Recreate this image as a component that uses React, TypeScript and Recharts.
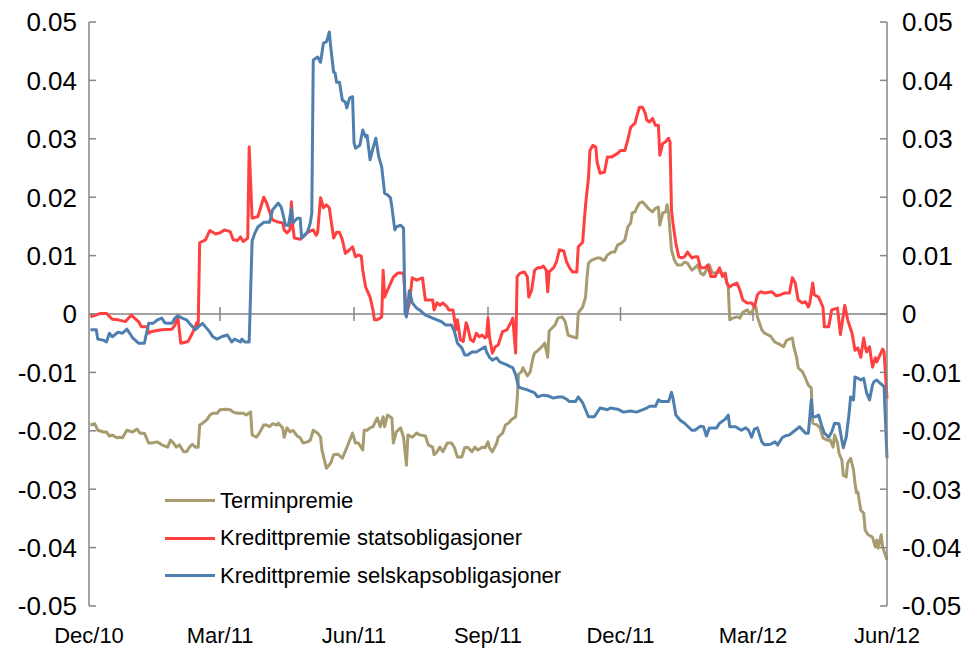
import { Legend, Line, LineChart, ReferenceLine, XAxis, YAxis } from 'recharts'

const CHART_WIDTH = 971
const CHART_HEIGHT = 652
const PLOT_LEFT = 89
const PLOT_RIGHT = 887
const PLOT_TOP = 22
const PLOT_BOTTOM = 606
const TICK_LENGTH = 7
/** Half height of the cross ticks on the zero line, in data units. */
const CROSS_TICK = 0.0012

const FONT = '"Liberation Sans", Arial, sans-serif'
const X_FONT_SIZE = 22
const Y_FONT_SIZE = 26
const LEGEND_FONT_SIZE = 22
const AXIS_COLOR = '#858585'

const TERM_COLOR = '#A79B70'
const STAT_COLOR = '#FF4040'
const SELSK_COLOR = '#4F7FAE'

// days since 1 Dec 2010
const tickDays = [0, 90, 182, 274, 365, 456, 548]
const tickLabels = ['Dec/10', 'Mar/11', 'Jun/11', 'Sep/11', 'Dec/11', 'Mar/12', 'Jun/12']
const yTicks = [-0.05, -0.04, -0.03, -0.02, -0.01, 0, 0.01, 0.02, 0.03, 0.04, 0.05]

const seriesNames = ['Terminpremie', 'Kredittpremie statsobligasjoner', 'Kredittpremie selskapsobligasjoner']

// [day, value]
const terminpremie: [number, number][] = [
  [1, -0.019], [4, -0.0188], [6, -0.0199], [10, -0.0202], [12, -0.0202], [14, -0.0209], [16, -0.0207], [19, -0.0212],
  [21, -0.0211], [23, -0.0212], [26, -0.0199], [30, -0.0202], [33, -0.0197], [35, -0.0204], [38, -0.0204], [41, -0.0221],
  [43, -0.0221], [47, -0.0219], [50, -0.0224], [54, -0.0228], [56, -0.0216], [58, -0.0221], [60, -0.0228], [62, -0.0224],
  [65, -0.0236], [67, -0.0236], [69, -0.0228], [71, -0.0223], [73, -0.0228], [75, -0.0228], [76, -0.019], [78, -0.0187],
  [81, -0.0181], [83, -0.0173], [85, -0.017], [88, -0.017], [90, -0.0164], [93, -0.0163], [97, -0.0164], [99, -0.0168],
  [102, -0.017], [106, -0.017], [108, -0.0173], [111, -0.0168], [112, -0.0207], [115, -0.0211], [117, -0.0204], [120, -0.019],
  [122, -0.019], [124, -0.0193], [126, -0.0188], [129, -0.019], [130, -0.0187], [133, -0.0195], [134, -0.0211], [136, -0.0195],
  [138, -0.0202], [140, -0.0199], [143, -0.0209], [145, -0.0212], [147, -0.0221], [150, -0.0219], [152, -0.0216], [154, -0.0199],
  [157, -0.0204], [159, -0.0211], [160, -0.0233], [163, -0.0264], [166, -0.0255], [168, -0.0241], [171, -0.024], [174, -0.0247],
  [177, -0.0229], [181, -0.0204], [183, -0.0221], [185, -0.0221], [188, -0.0233], [189, -0.0199], [191, -0.0199], [193, -0.0195],
  [195, -0.0193], [198, -0.0178], [200, -0.0193], [202, -0.0176], [203, -0.0193], [205, -0.0173], [208, -0.0178], [209, -0.0221],
  [211, -0.0202], [214, -0.0195], [216, -0.0211], [218, -0.0259], [219, -0.0207], [222, -0.0211], [225, -0.0204], [227, -0.0207],
  [231, -0.0209], [233, -0.0224], [236, -0.0228], [237, -0.0241], [239, -0.0236], [241, -0.0228], [243, -0.0236], [246, -0.0221],
  [249, -0.0221], [251, -0.0229], [253, -0.0245], [256, -0.0245], [258, -0.0229], [260, -0.0228], [263, -0.0236], [265, -0.0228],
  [267, -0.0233], [270, -0.0228], [272, -0.0229], [274, -0.0219], [275, -0.0229], [277, -0.0236], [280, -0.0221], [281, -0.0211],
  [284, -0.0204], [286, -0.019], [288, -0.0187], [290, -0.0181], [293, -0.0176], [294, -0.0147], [295, -0.0103], [297, -0.0099],
  [298, -0.0092], [301, -0.0106], [303, -0.0099], [305, -0.0074], [306, -0.0067], [308, -0.0063], [311, -0.0056], [313, -0.005],
  [315, -0.0074], [316, -0.0029], [318, -0.0024], [320, -0.0019], [322, -0.0007], [325, -0.0005], [327, -0.0013], [329, -0.0036],
  [332, -0.0039], [335, -0.0041], [336, 0.0002], [339, 0.0012], [341, 0.0029], [342, 0.0063], [343, 0.0087], [345, 0.0092],
  [349, 0.0096], [351, 0.0096], [353, 0.0092], [354, 0.0092], [356, 0.0101], [359, 0.0106], [361, 0.0106], [363, 0.0118],
  [366, 0.0122], [368, 0.0127], [370, 0.0149], [372, 0.0156], [373, 0.0173], [375, 0.0175], [376, 0.0181], [378, 0.019],
  [380, 0.0192], [382, 0.0187], [384, 0.0181], [387, 0.0175], [389, 0.0181], [391, 0.0183], [392, 0.0152], [394, 0.0173],
  [396, 0.0175], [397, 0.0187], [398, 0.0173], [400, 0.011], [402, 0.0092], [404, 0.0084], [407, 0.0084], [409, 0.0089],
  [411, 0.0087], [414, 0.0075], [416, 0.0079], [418, 0.0084], [420, 0.007], [422, 0.0067], [424, 0.0075], [426, 0.0084],
  [428, 0.007], [430, 0.007], [432, 0.0072], [435, 0.007], [437, 0.0063], [439, 0.0046], [440, -0.001], [442, -0.0007],
  [445, -0.0005], [447, -0.0007], [449, 0.0003], [452, 0.0007], [454, 0], [456, 0.0007], [458, 0.0012], [459, -0.0005],
  [462, -0.0027], [464, -0.0033], [468, -0.0038], [471, -0.0048], [475, -0.0053], [477, -0.0056], [479, -0.0045], [483, -0.0041],
  [484, -0.0056], [486, -0.0075], [487, -0.0092], [490, -0.0099], [492, -0.011], [494, -0.0122], [496, -0.0127], [497, -0.0187],
  [500, -0.019], [502, -0.0195], [504, -0.0212], [507, -0.0216], [509, -0.0216], [511, -0.0228], [512, -0.0207], [514, -0.0221],
  [515, -0.0238], [517, -0.025], [518, -0.0276], [520, -0.0279], [521, -0.0255], [523, -0.0247], [525, -0.0267], [526, -0.0289],
  [527, -0.0306], [528, -0.0305], [530, -0.0336], [532, -0.0341], [533, -0.037], [535, -0.0378], [538, -0.0382], [540, -0.0399],
  [541, -0.0387], [542, -0.0401], [544, -0.0378], [545, -0.0399], [548, -0.0421]
]

const statsobligasjoner: [number, number][] = [
  [1, -0.0005], [8, 0.0001], [12, 0.0001], [16, -0.0009], [20, -0.001], [25, -0.0013], [29, -0.0002], [34, -0.0013],
  [36, -0.0022], [40, -0.0022], [41, -0.0033], [43, -0.003], [50, -0.0027], [57, -0.0026], [59, -0.0019], [61, -0.0005],
  [63, -0.005], [68, -0.0047], [71, -0.0033], [74, -0.0015], [75, -0.0019], [76, 0.0122], [80, 0.0127], [83, 0.0143],
  [87, 0.0137], [90, 0.0139], [93, 0.0144], [97, 0.0141], [99, 0.0127], [102, 0.0126], [104, 0.0132], [106, 0.0124],
  [109, 0.013], [110, 0.0286], [112, 0.0164], [116, 0.0167], [120, 0.02], [122, 0.019], [124, 0.0175], [126, 0.0161],
  [129, 0.0158], [133, 0.0156], [134, 0.0144], [136, 0.0139], [138, 0.0144], [139, 0.0192], [140, 0.015], [141, 0.013],
  [145, 0.0128], [147, 0.0132], [150, 0.014], [154, 0.0144], [156, 0.0135], [157, 0.0139], [159, 0.0199], [161, 0.0182],
  [163, 0.0187], [165, 0.0182], [168, 0.013], [170, 0.014], [172, 0.014], [174, 0.0127], [176, 0.0104], [179, 0.011],
  [181, 0.0115], [183, 0.0098], [185, 0.0101], [187, 0.0099], [188, 0.0075], [190, 0.0046], [193, 0.0029], [195, 0.0007],
  [196, -0.001], [198, -0.001], [201, -0.0005], [202, 0.0075], [203, 0.0029], [205, 0.0041], [209, 0.0063], [212, 0.007],
  [215, 0.007], [216, 0.0068], [218, -0.0002], [220, 0.0019], [222, 0.0062], [225, 0.0058], [229, 0.0062], [231, 0.0024],
  [234, 0.0024], [236, 0.0024], [237, 0.0007], [239, 0.0019], [241, 0.0015], [243, 0.0019], [246, 0.0012], [247, 0.0007],
  [250, 0.0007], [252, -0.0027], [253, -0.001], [255, -0.0044], [257, -0.0047], [259, -0.0015], [260, -0.0022], [262, -0.0044],
  [264, -0.0047], [266, -0.0033], [268, -0.0039], [270, -0.0036], [272, -0.0041], [273, -0.0039], [274, -0.0007], [275, -0.0039],
  [277, -0.0067], [279, -0.0056], [281, -0.0053], [284, -0.003], [287, -0.0027], [290, -0.0013], [291, -0.0007], [293, -0.0067],
  [294, 0.0064], [296, 0.007], [299, 0.0072], [301, 0.0064], [302, 0.0029], [304, 0.0041], [306, 0.0075], [308, 0.0079],
  [310, 0.0079], [312, 0.0082], [314, 0.0075], [315, 0.0038], [316, 0.0072], [319, 0.0079], [321, 0.0089], [323, 0.011],
  [326, 0.0108], [328, 0.0089], [330, 0.0079], [332, 0.0072], [335, 0.0072], [336, 0.0115], [339, 0.0123], [340, 0.0156],
  [341, 0.0187], [343, 0.0233], [344, 0.028], [346, 0.0289], [348, 0.0286], [349, 0.0259], [351, 0.0241], [354, 0.0243],
  [356, 0.0269], [359, 0.0269], [363, 0.0275], [365, 0.028], [368, 0.028], [370, 0.0298], [372, 0.032], [375, 0.0327],
  [376, 0.0337], [378, 0.0354], [380, 0.0354], [382, 0.0344], [383, 0.0332], [385, 0.0329], [387, 0.0335], [389, 0.0323],
  [391, 0.0323], [392, 0.0272], [394, 0.0292], [396, 0.0295], [398, 0.0301], [399, 0.0295], [400, 0.0178], [401, 0.0156],
  [403, 0.0121], [405, 0.0098], [407, 0.0096], [409, 0.0098], [411, 0.0106], [414, 0.0096], [416, 0.0098], [418, 0.0098],
  [420, 0.0079], [423, 0.0079], [425, 0.0084], [427, 0.0064], [430, 0.0064], [431, 0.007], [433, 0.0079], [435, 0.0064],
  [437, 0.007], [438, 0.0053], [440, 0.0046], [442, 0.005], [445, 0.0053], [447, 0.0041], [449, 0.0024], [452, 0.0019],
  [455, 0.0019], [457, 0.0012], [459, 0.0033], [461, 0.0038], [464, 0.0036], [469, 0.0038], [472, 0.0031], [475, 0.0033],
  [478, 0.0036], [481, 0.0036], [483, 0.0062], [485, 0.0053], [487, 0.0024], [490, 0.0019], [492, 0.0021], [494, 0.0012],
  [495, 0.0019], [497, 0.0053], [498, 0.0033], [501, 0.0029], [504, 0.0012], [505, -0.0022], [508, -0.0022], [510, 0.0007],
  [514, 0.001], [516, -0.0035], [519, 0.0015], [521, -0.001], [524, -0.0033], [526, -0.0062], [528, -0.0058], [530, -0.0074],
  [532, -0.0041], [533, -0.0056], [534, -0.0065], [536, -0.0056], [538, -0.0091], [540, -0.0075], [541, -0.0082], [545, -0.006],
  [546, -0.0065], [548, -0.0145]
]

const selskapsobligasjoner: [number, number][] = [
  [1, -0.0027], [5, -0.0027], [6, -0.0043], [10, -0.0045], [12, -0.0048], [14, -0.0033], [16, -0.0039], [20, -0.0031],
  [23, -0.0033], [26, -0.0026], [28, -0.0033], [30, -0.0041], [34, -0.005], [38, -0.005], [41, -0.0016], [44, -0.0016],
  [47, -0.001], [50, -0.0007], [52, -0.0015], [54, -0.0016], [57, -0.0016], [59, -0.0007], [61, -0.0003], [64, -0.0007],
  [67, -0.001], [70, -0.0019], [73, -0.0027], [75, -0.0022], [78, -0.0016], [80, -0.0022], [83, -0.0031], [85, -0.0039],
  [88, -0.0043], [91, -0.0039], [95, -0.0036], [98, -0.0048], [100, -0.0043], [104, -0.0048], [105, -0.0043], [107, -0.0048],
  [110, -0.0048], [112, 0.0125], [114, 0.0139], [116, 0.0149], [120, 0.0157], [124, 0.0157], [126, 0.0178], [130, 0.019],
  [132, 0.0183], [133, 0.0173], [135, 0.0152], [137, 0.0152], [139, 0.0181], [140, 0.0156], [143, 0.0164], [145, 0.0164],
  [146, 0.013], [150, 0.014], [152, 0.0156], [153, 0.0173], [154, 0.0435], [157, 0.044], [159, 0.0431], [161, 0.0464],
  [163, 0.0466], [164, 0.0473], [165, 0.0483], [166, 0.0457], [168, 0.0414], [169, 0.0413], [170, 0.0397], [172, 0.0397],
  [174, 0.0366], [176, 0.0363], [177, 0.0353], [179, 0.037], [181, 0.0372], [182, 0.0293], [183, 0.0284], [186, 0.0289],
  [188, 0.0315], [190, 0.0303], [191, 0.0306], [193, 0.0264], [195, 0.0284], [197, 0.0301], [199, 0.0269], [201, 0.0252],
  [203, 0.0207], [205, 0.0204], [207, 0.0199], [208, 0.0183], [210, 0.0144], [211, 0.0149], [214, 0.0152], [216, 0.0147],
  [217, 0.0002], [218, -0.0005], [220, 0.004], [222, 0.0019], [225, 0.001], [227, 0.0007], [231, -0.0002], [234, -0.0005],
  [236, -0.0007], [239, -0.001], [242, -0.0013], [245, -0.0019], [249, -0.0019], [251, -0.003], [253, -0.005], [256, -0.0058],
  [258, -0.007], [260, -0.007], [263, -0.0065], [266, -0.0065], [268, -0.0062], [272, -0.0056], [273, -0.0065], [275, -0.0074],
  [277, -0.0079], [280, -0.0075], [282, -0.0082], [284, -0.0084], [287, -0.0087], [290, -0.0091], [291, -0.0092], [293, -0.0104],
  [295, -0.0125], [297, -0.0127], [301, -0.013], [304, -0.0133], [306, -0.0135], [308, -0.0142], [312, -0.0139], [315, -0.014],
  [319, -0.0144], [322, -0.0142], [325, -0.0142], [328, -0.0146], [330, -0.015], [334, -0.015], [336, -0.0142], [339, -0.0152],
  [343, -0.0176], [347, -0.0176], [351, -0.0161], [356, -0.0164], [358, -0.0161], [363, -0.0163], [367, -0.0168], [372, -0.0166],
  [376, -0.0168], [380, -0.0164], [383, -0.0161], [385, -0.0158], [389, -0.0158], [391, -0.0147], [393, -0.015], [398, -0.015],
  [400, -0.0134], [401, -0.0144], [403, -0.0173], [406, -0.0182], [409, -0.0187], [414, -0.0199], [416, -0.0199], [420, -0.0192],
  [422, -0.0193], [424, -0.0209], [426, -0.0195], [431, -0.0195], [433, -0.0187], [437, -0.018], [439, -0.0173], [440, -0.0193],
  [444, -0.0193], [448, -0.0199], [451, -0.0195], [453, -0.0199], [455, -0.0211], [457, -0.0197], [459, -0.0195], [462, -0.0219],
  [464, -0.0224], [468, -0.0223], [471, -0.0219], [473, -0.0224], [476, -0.0212], [478, -0.0209], [481, -0.0207], [485, -0.0199],
  [488, -0.0193], [492, -0.0204], [494, -0.0204], [496, -0.0147], [497, -0.0176], [499, -0.0176], [501, -0.0173], [503, -0.019],
  [505, -0.0204], [508, -0.0211], [510, -0.0202], [512, -0.0187], [515, -0.0188], [517, -0.0216], [518, -0.0229], [520, -0.0211],
  [522, -0.017], [523, -0.0142], [525, -0.0147], [526, -0.0108], [528, -0.011], [530, -0.0113], [532, -0.011], [534, -0.0135],
  [536, -0.0147], [538, -0.0122], [539, -0.0116], [541, -0.0113], [543, -0.0118], [545, -0.0122], [546, -0.0125], [548, -0.0247]
]

const toPoints = (rows: [number, number][]) => rows.map(([day, value]) => ({ day, value }))

// both value axes share one scale; the first series is bound to the right one so it gets ticks too
const series = [
  { name: seriesNames[0], color: TERM_COLOR, axis: 'right', data: toPoints(terminpremie) },
  { name: seriesNames[1], color: STAT_COLOR, axis: 'left', data: toPoints(statsobligasjoner) },
  { name: seriesNames[2], color: SELSK_COLOR, axis: 'left', data: toPoints(selskapsobligasjoner) }
]

const formatY = (v: number) => (v === 0 ? '0' : v.toFixed(2))
const formatX = (d: number) => tickLabels[tickDays.indexOf(d)] ?? ''

function LeftTick({ x, y, payload }: any) {
  return (
    <g>
      <line x1={PLOT_LEFT} x2={PLOT_LEFT + TICK_LENGTH} y1={y} y2={y} stroke={AXIS_COLOR} strokeWidth={1.5} />
      <text x={x} y={y} dy='0.36em' textAnchor='end' fontSize={Y_FONT_SIZE} fontFamily={FONT} fill='#000'>
        {formatY(payload.value)}
      </text>
    </g>
  )
}

function RightTick({ x, y, payload }: any) {
  return (
    <g>
      <line x1={PLOT_RIGHT - TICK_LENGTH} x2={PLOT_RIGHT} y1={y} y2={y} stroke={AXIS_COLOR} strokeWidth={1.5} />
      <text x={x} y={y} dy='0.36em' textAnchor='start' fontSize={Y_FONT_SIZE} fontFamily={FONT} fill='#000'>
        {formatY(payload.value)}
      </text>
    </g>
  )
}

function LegendBox() {
  return (
    <div style={{ fontFamily: FONT, fontSize: LEGEND_FONT_SIZE, color: '#000' }}>
      {series.map(s => (
        <div key={s.name} style={{ display: 'flex', alignItems: 'center', height: 37.5, whiteSpace: 'nowrap' }}>
          <span style={{ display: 'inline-block', width: 50, height: 3, background: s.color, marginRight: 5 }} />
          <span>{s.name}</span>
        </div>
      ))}
    </div>
  )
}

export default function App() {
  return (
    <div style={{ position: 'absolute', left: 0, top: 0, width: CHART_WIDTH, height: CHART_HEIGHT, background: '#fff' }}>
      <LineChart
        width={CHART_WIDTH}
        height={CHART_HEIGHT}
        margin={{ top: PLOT_TOP, right: 0, bottom: 0, left: 0 }}
      >
        <XAxis
          type='number'
          dataKey='day'
          domain={[0, 548]}
          ticks={tickDays}
          tickFormatter={formatX}
          axisLine={false}
          tickLine={false}
          tickSize={0}
          tickMargin={21}
          height={CHART_HEIGHT - PLOT_BOTTOM}
          interval={0}
          tick={{ fontSize: X_FONT_SIZE, fontFamily: FONT, fill: '#000' }}
        />
        <YAxis
          yAxisId='left'
          orientation='left'
          type='number'
          domain={[-0.05, 0.05]}
          ticks={yTicks}
          interval={0}
          width={PLOT_LEFT}
          tickLine={false}
          tickSize={6}
          tickMargin={6}
          axisLine={{ stroke: AXIS_COLOR, strokeWidth: 1.5 }}
          tick={<LeftTick />}
        />
        <YAxis
          yAxisId='right'
          orientation='right'
          type='number'
          domain={[-0.05, 0.05]}
          ticks={yTicks}
          interval={0}
          width={CHART_WIDTH - PLOT_RIGHT}
          tickLine={false}
          tickSize={6}
          tickMargin={9}
          axisLine={{ stroke: AXIS_COLOR, strokeWidth: 1.5 }}
          tick={<RightTick />}
        />
        <ReferenceLine yAxisId='left' y={0} stroke={AXIS_COLOR} strokeWidth={1.5} />
        {tickDays.slice(1, -1).map(d => (
          <ReferenceLine
            key={d}
            yAxisId='left'
            segment={[{ x: d, y: -CROSS_TICK }, { x: d, y: CROSS_TICK }]}
            stroke={AXIS_COLOR}
            strokeWidth={1.5}
          />
        ))}
        {series.map(s => (
          <Line
            key={s.name}
            yAxisId={s.axis}
            data={s.data}
            dataKey='value'
            name={s.name}
            type='linear'
            stroke={s.color}
            strokeWidth={3}
            strokeLinejoin='round'
            dot={false}
            activeDot={false}
            isAnimationActive={false}
          />
        ))}
        <Legend
          layout='vertical'
          align='center'
          verticalAlign='middle'
          wrapperStyle={{ left: 165, top: 482, width: 'auto' }}
          content={() => <LegendBox />}
        />
      </LineChart>
    </div>
  )
}
